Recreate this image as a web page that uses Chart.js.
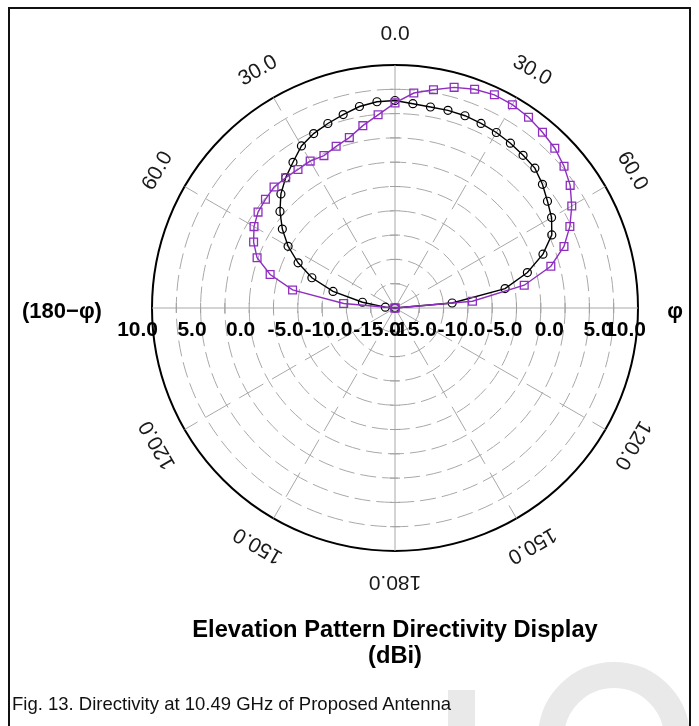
<!DOCTYPE html>
<html>
<head>
<meta charset="utf-8">
<script src="https://cdn.jsdelivr.net/npm/chart.js@4.4.1/dist/chart.umd.min.js"></script>
<style>
  html, body { margin: 0; padding: 0; background: #fff; }
  #wrap { position: relative; width: 699px; height: 726px; overflow: hidden; background: #fff; }
  #frame { position: absolute; left: 8px; top: 7px; width: 683px; height: 760px; border: 2px solid #111; box-sizing: border-box; }
  .mark { position: absolute; background: #e9e9e9; }
  #bar { left: 448px; top: 690px; width: 27px; height: 60px; }
  #ring { left: 538px; top: 662px; width: 152px; height: 152px; border-radius: 50%; background: none; border: 26px solid #e9e9e9; box-sizing: border-box; }
  #caption { position: absolute; left: 12px; top: 693px; font: 18.5px 'Liberation Sans', Arial, sans-serif; color: #111; white-space: nowrap; }
  canvas { position: absolute; left: 0; top: 0; }
</style>
</head>
<body>
<div id="wrap">
  <div class="mark" id="bar"></div>
  <div class="mark" id="ring"></div>
  <div id="frame"></div>
  <canvas id="myChart" width="699" height="726"></canvas>
  <div id="caption">Fig. 13. Directivity at 10.49 GHz of Proposed Antenna</div>
</div>
<script>
// angle around the plot, 0 at top, clockwise (right side = phi, left side = 180-phi)
const thetaLabels = [0, 5, 10, 15, 20, 25, 30, 35, 40, 45, 50, 55, 60, 65, 70, 75, 80, 85,
  90, 95, 100, 105, 110, 115, 120, 125, 130, 135, 140, 145, 150, 155, 160, 165, 170, 175,
  180, 185, 190, 195, 200, 205, 210, 215, 220, 225, 230, 235, 240, 245, 250, 255, 260, 265,
  270, 275, 280, 285, 290, 295, 300, 305, 310, 315, 320, 325, 330, 335, 340, 345, 350, 355];

// right half: 0..90 deg, left half: 5..90 deg (dBi)
const blackRight = [6.35, 6.1, 6.0, 6.05, 6.05, 5.95, 5.85, 5.7, 5.5, 5.35, 4.8, 4.15, 3.6, 2.8, 1.2, -0.9, -3.5, -9.1, -15];
const blackLeft = [6.3, 6.05, 5.6, 5.2, 4.8, 4.25, 3.3, 2.5, 1.6, 0.45, -0.85, -2.3, -4.0, -5.9, -8.4, -11.6, -14.0, -15];
const purpleRight = [6.1, 7.2, 7.8, 8.5, 8.95, 9.2, 9.15, 8.95, 8.6, 8.25, 7.7, 7.0, 6.0, 4.85, 3.5, 1.6, -1.5, -7.0, -15];
const purpleLeft = [4.95, 4.05, 3.15, 2.7, 2.3, 2.45, 2.4, 2.5, 2.6, 2.4, 2.2, 1.75, 1.05, 0.1, -1.7, -4.3, -9.7, -15];

const radialTicks = [-15, -10, -5, 0, 5, 10];
const radialTickText = ['-15.0', '-10.0', '-5.0', '0.0', '5.0', '10.0'];
const angleTickAt = [0, 30, 60, 120, 150, 180, 210, 240, 300, 330];
const angleTickText = ['0.0', '30.0', '60.0', '120.0', '150.0', '180.0', '150.0', '120.0', '60.0', '30.0'];

function buildSeries(right, left) {
  return thetaLabels.map(function (t) {
    if (t <= 90) return right[t / 5];
    if (t >= 270) return left[(360 - t) / 5 - 1];
    return null;
  });
}

const fontFam = "'Liberation Sans', Arial, sans-serif";

const polarDecor = {
  id: 'polarDecor',
  beforeDatasetsDraw(chart) {
    const r = chart.scales.r;
    const ctx = chart.ctx;
    const cx = r.xCenter, cy = r.yCenter;
    ctx.save();

    // small cross ticks on the main axes
    ctx.strokeStyle = '#a0a0a0';
    ctx.lineWidth = 1;
    r.ticks.forEach(function (t) {
      if (t.value <= -15 || t.value >= 10) return;
      const d = r.getDistanceFromCenterForValue(t.value);
      ctx.beginPath();
      ctx.moveTo(cx - 5, cy - d); ctx.lineTo(cx + 5, cy - d);
      ctx.moveTo(cx - 5, cy + d); ctx.lineTo(cx + 5, cy + d);
      ctx.moveTo(cx - d, cy - 5); ctx.lineTo(cx - d, cy + 5);
      ctx.moveTo(cx + d, cy - 5); ctx.lineTo(cx + d, cy + 5);
      ctx.stroke();
    });

    // angle labels, rotated along the circle
    ctx.fillStyle = '#1a1a1a';
    ctx.font = '21px ' + fontFam;
    ctx.textAlign = 'center';
    ctx.textBaseline = 'middle';
    angleTickAt.forEach(function (a, i) {
      const p = r.getPointPosition(thetaLabels.indexOf(a), r.drawingArea + 31);
      ctx.save();
      ctx.translate(p.x, p.y);
      ctx.rotate(a * Math.PI / 180);
      ctx.fillText(angleTickText[i], 0, 0);
      ctx.restore();
    });

    // dB labels along the horizontal axis, both sides
    ctx.fillStyle = '#000';
    ctx.font = 'bold 21px ' + fontFam;
    radialTicks.forEach(function (v, i) {
      const d = r.getDistanceFromCenterForValue(v);
      ctx.textAlign = 'right';
      ctx.fillText(radialTickText[i], cx - d + 6, cy + 22);
      if (v === 10) {
        ctx.fillText(radialTickText[i], cx + d + 8, cy + 22);
      } else {
        ctx.textAlign = 'left';
        ctx.fillText(radialTickText[i], cx + d - 6, cy + 22);
      }
    });

    ctx.font = 'bold 22px ' + fontFam;
    ctx.textAlign = 'left';
    ctx.fillText('(180\u2212\u03c6)', 22, cy + 4);
    ctx.textAlign = 'right';
    ctx.fillText('\u03c6', 683, cy + 4);
    ctx.restore();
  }
};

new Chart(document.getElementById('myChart'), {
  type: 'radar',
  data: {
    labels: thetaLabels,
    datasets: [
      {
        label: 'phi = 0',
        data: buildSeries(blackRight, blackLeft),
        borderColor: '#000',
        borderWidth: 1.4,
        pointStyle: 'circle',
        pointRadius: 4,
        pointBorderWidth: 1.2,
        pointBorderColor: '#000',
        pointBackgroundColor: 'rgba(255,255,255,0)',
        spanGaps: true,
        fill: false,
        order: 2
      },
      {
        label: 'phi = 90',
        data: buildSeries(purpleRight, purpleLeft),
        borderColor: '#8e2fc0',
        borderWidth: 1.4,
        pointStyle: 'rect',
        pointRadius: 5.5,
        pointBorderWidth: 1.3,
        pointBorderColor: '#8e2fc0',
        pointBackgroundColor: 'rgba(255,255,255,0)',
        spanGaps: true,
        fill: false,
        order: 1
      }
    ]
  },
  options: {
    responsive: false,
    animation: false,
    layout: { padding: { left: 151, top: 65, right: 60, bottom: 0 } },
    plugins: {
      legend: { display: false },
      tooltip: { enabled: false },
      title: {
        display: true,
        position: 'bottom',
        text: ['Elevation Pattern Directivity Display', '(dBi)'],
        color: '#000',
        font: { family: fontFam, size: 23.7, weight: 'bold', lineHeight: 1.12 },
        padding: { top: 64, bottom: 56 }
      }
    },
    scales: {
      r: {
        min: -15,
        max: 10,
        startAngle: 0,
        ticks: { stepSize: 2.5, display: false },
        pointLabels: { display: false },
        grid: {
          circular: true,
          color: function (c) { return c.tick && c.tick.value === 10 ? '#000' : '#a8a8a8'; },
          lineWidth: function (c) { return c.tick && c.tick.value === 10 ? 2 : 1; }
        },
        border: {
          dash: function (c) { return c.tick && c.tick.value === 10 ? [] : [16, 6]; }
        },
        angleLines: {
          display: true,
          color: '#a8a8a8',
          lineWidth: function (c) { return c.index % 6 === 0 ? 1 : 0; },
          borderDash: function (c) { return c.index % 18 === 0 ? [] : [28, 10]; }
        }
      }
    }
  },
  plugins: [polarDecor]
});
</script>
</body>
</html>
